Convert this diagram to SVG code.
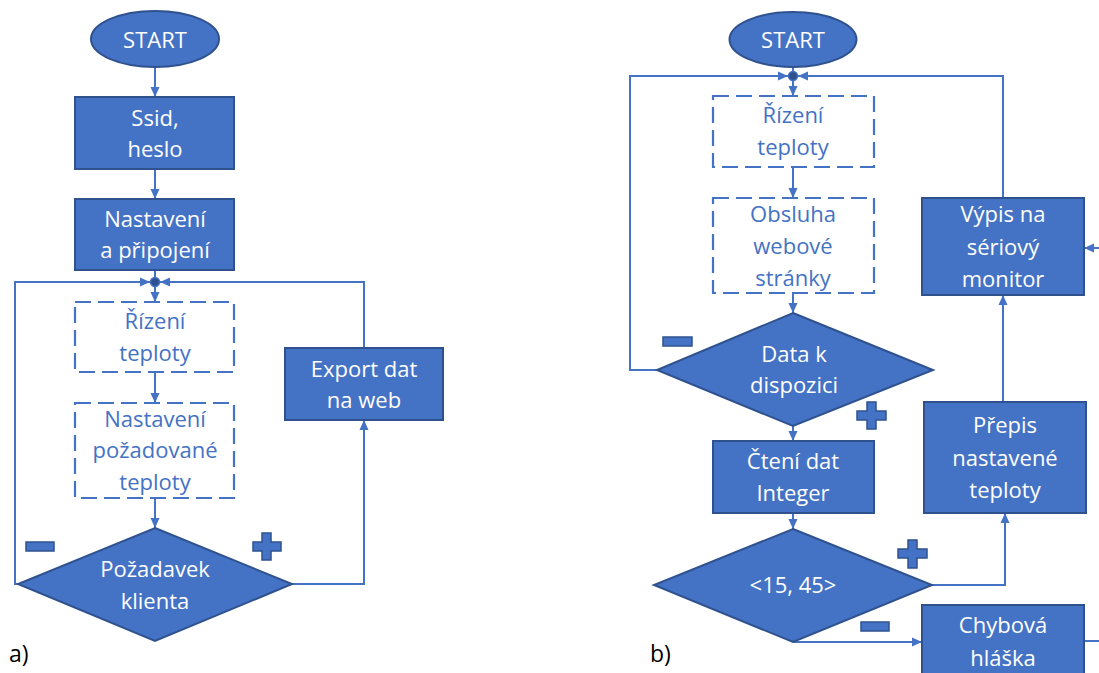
<svg xmlns="http://www.w3.org/2000/svg" width="1099" height="673" viewBox="0 0 1099 673">
<style>
.n{fill:#4472C4;stroke:#2F528F;stroke-width:2}
.d{fill:none;stroke:#4472C4;stroke-width:2.2;stroke-dasharray:16 7}
.t{font-family:"Open Sans","Noto Sans",sans-serif;font-size:22px;fill:#FFFFFF;text-anchor:middle}
.tb{font-family:"Open Sans","Noto Sans",sans-serif;font-size:22px;fill:#4472C4;text-anchor:middle}
.lbl{font-family:"Open Sans","Noto Sans",sans-serif;font-size:23px;fill:#000000}
.c{fill:none;stroke:#4472C4;stroke-width:2}
.j{fill:#2F528F;stroke:#4472C4;stroke-width:1.5}
.s{fill:#4472C4;stroke:#2F528F;stroke-width:1.5}
</style>
<defs>
<marker id="ah" markerUnits="userSpaceOnUse" markerWidth="11" markerHeight="11" refX="10" refY="5.5" orient="auto">
<path d="M0,1 L10,5.5 L0,10 Z" fill="#4472C4"/>
</marker>
</defs>
<g id="connectors">
<line class="c" x1="155" y1="67" x2="155" y2="97" marker-end="url(#ah)"/>
<line class="c" x1="155" y1="169" x2="155" y2="199" marker-end="url(#ah)"/>
<line class="c" x1="155" y1="270" x2="155" y2="278"/>
<line class="c" x1="155" y1="286" x2="155" y2="302" marker-end="url(#ah)"/>
<line class="c" x1="155" y1="372" x2="155" y2="403" marker-end="url(#ah)"/>
<line class="c" x1="155" y1="498" x2="155" y2="528" marker-end="url(#ah)"/>
<polyline class="c" points="18,584 15,584 15,282 150,282" marker-end="url(#ah)"/>
<polyline class="c" points="292,584 364,584 364,420" marker-end="url(#ah)"/>
<polyline class="c" points="364,348 364,282 160,282" marker-end="url(#ah)"/>
<line class="c" x1="793" y1="67" x2="793" y2="72"/>
<line class="c" x1="793" y1="80" x2="793" y2="96" marker-end="url(#ah)"/>
<line class="c" x1="793" y1="167" x2="793" y2="198" marker-end="url(#ah)"/>
<line class="c" x1="793" y1="293" x2="793" y2="313" marker-end="url(#ah)"/>
<polyline class="c" points="657,370 630,370 630,76 788,76" marker-end="url(#ah)"/>
<line class="c" x1="793" y1="426" x2="793" y2="441" marker-end="url(#ah)"/>
<line class="c" x1="793" y1="513" x2="793" y2="529" marker-end="url(#ah)"/>
<polyline class="c" points="932,585 1005,585 1005,513" marker-end="url(#ah)"/>
<line class="c" x1="1003" y1="402" x2="1003" y2="295" marker-end="url(#ah)"/>
<polyline class="c" points="1003,198 1003,76 798,76" marker-end="url(#ah)"/>
<line class="c" x1="793" y1="642" x2="922" y2="642" marker-end="url(#ah)"/>
<line class="c" x1="1084" y1="641" x2="1099" y2="641"/>
<line class="c" x1="1099" y1="248" x2="1084" y2="248" marker-end="url(#ah)"/>
<circle class="j" cx="155" cy="282" r="4.5"/>
<circle class="j" cx="793" cy="76" r="4.5"/>
</g>
<g id="a-start"><ellipse class="n" cx="155" cy="39" rx="64" ry="28"/><text class="t" x="155" y="48">START</text></g>
<g id="a-ssid"><rect class="n" x="75" y="97" width="159" height="72"/><text class="t" x="155" y="126">Ssid,</text><text class="t" x="155" y="157">heslo</text></g>
<g id="a-nastaveni"><rect class="n" x="75" y="199" width="159" height="71"/><text class="t" x="155" y="227">Nastavení</text><text class="t" x="155" y="258">a připojení</text></g>
<g id="a-rizeni"><rect class="d" x="75" y="302" width="159" height="70"/><text class="tb" x="155" y="329">Řízení</text><text class="tb" x="155" y="361">teploty</text></g>
<g id="a-pozadovane"><rect class="d" x="75" y="403" width="159" height="95"/><text class="tb" x="155" y="427">Nastavení</text><text class="tb" x="155" y="458">požadované</text><text class="tb" x="155" y="490">teploty</text></g>
<g id="a-pozadavek"><polygon class="n" points="155,528 292,584 155,641 18,584"/><text class="t" x="155" y="577">Požadavek</text><text class="t" x="155" y="609">klienta</text></g>
<g id="a-export"><rect class="n" x="285" y="348" width="158" height="72"/><text class="t" x="364" y="377">Export dat</text><text class="t" x="364" y="408">na web</text></g>
<g id="a-minus"><rect class="s" x="26" y="542" width="28" height="9"/></g>
<g id="a-plus"><path class="s" d="M262,533 h9 v9 h10 v9 h-10 v9 h-9 v-9 h-9 v-9 h9 Z"/></g>
<text class="lbl" x="9" y="662">a)</text>
<g id="b-start"><ellipse class="n" cx="793" cy="39.5" rx="63.5" ry="27.5"/><text class="t" x="793" y="48">START</text></g>
<g id="b-rizeni"><rect class="d" x="713" y="96" width="161" height="71"/><text class="tb" x="793" y="123">Řízení</text><text class="tb" x="793" y="155">teploty</text></g>
<g id="b-obsluha"><rect class="d" x="713" y="198" width="161" height="95"/><text class="tb" x="793" y="222">Obsluha</text><text class="tb" x="793" y="254">webové</text><text class="tb" x="793" y="286">stránky</text></g>
<g id="b-data"><polygon class="n" points="793,313 933,370 793,426 657,370"/><text class="t" x="794" y="362">Data k</text><text class="t" x="794" y="393">dispozici</text></g>
<g id="b-cteni"><rect class="n" x="713" y="441" width="161" height="72"/><text class="t" x="793" y="469">Čtení dat</text><text class="t" x="793" y="501">Integer</text></g>
<g id="b-rozsah"><polygon class="n" points="793,529 932,585 793,642 654,585"/><text class="t" x="793" y="593">&lt;15, 45&gt;</text></g>
<g id="b-prepis"><rect class="n" x="924" y="402" width="162" height="111"/><text class="t" x="1005" y="433">Přepis</text><text class="t" x="1005" y="466">nastavené</text><text class="t" x="1005" y="498">teploty</text></g>
<g id="b-vypis"><rect class="n" x="922" y="198" width="162" height="97"/><text class="t" x="1003" y="222">Výpis na</text><text class="t" x="1003" y="255">sériový</text><text class="t" x="1003" y="287">monitor</text></g>
<g id="b-chybova"><rect class="n" x="922" y="605" width="162" height="80"/><text class="t" x="1003" y="633">Chybová</text><text class="t" x="1003" y="666">hláška</text></g>
<g id="b-minus1"><rect class="s" x="663" y="337" width="29" height="9"/></g>
<g id="b-plus1"><path class="s" d="M867,402 h9 v9 h10 v9 h-10 v9 h-9 v-9 h-10 v-9 h10 Z"/></g>
<g id="b-plus2"><path class="s" d="M908,540 h9 v9 h10 v9 h-10 v10 h-9 v-10 h-10 v-9 h10 Z"/></g>
<g id="b-minus2"><rect class="s" x="861" y="622" width="28" height="9"/></g>
<text class="lbl" x="650" y="662">b)</text>
</svg>
